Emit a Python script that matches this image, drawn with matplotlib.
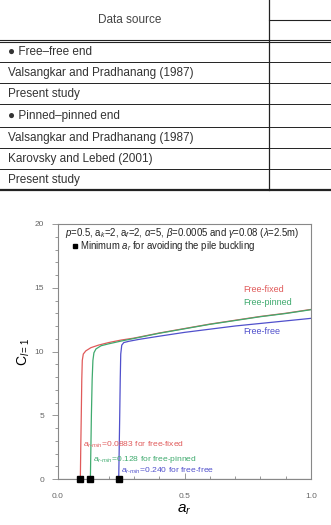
import numpy as np
import matplotlib.pyplot as plt
from matplotlib.ticker import MultipleLocator

# table rows
header = 'Data source'
rows = ['\u25cf Free\u2013free end', 'Valsangkar and Pradhanang (1987)', 'Present study',
        '\u25cf Pinned\u2013pinned end', 'Valsangkar and Pradhanang (1987)',
        'Karovsky and Lebed (2001)', 'Present study']

# curves
ar_fixed = [0.0883, 0.090, 0.092, 0.094, 0.096, 0.100, 0.11, 0.13, 0.16, 0.20, 0.25, 0.30,
            0.40, 0.50, 0.60, 0.70, 0.80, 0.90, 1.00]
c_fixed = [0, 2.5, 5.0, 7.8, 9.3, 9.8, 10.05, 10.3, 10.5, 10.7, 10.9, 11.05,
           11.45, 11.8, 12.15, 12.45, 12.75, 13.0, 13.3]
ar_pinned = [0.128, 0.130, 0.132, 0.135, 0.138, 0.142, 0.15, 0.17, 0.20, 0.25, 0.30,
             0.40, 0.50, 0.60, 0.70, 0.80, 0.90, 1.00]
c_pinned = [0, 2.5, 5.0, 7.8, 9.3, 9.9, 10.2, 10.45, 10.6, 10.82, 11.02,
            11.43, 11.78, 12.13, 12.43, 12.73, 12.98, 13.28]
ar_free = [0.240, 0.242, 0.244, 0.246, 0.248, 0.252, 0.26, 0.28, 0.32, 0.40, 0.50,
           0.60, 0.70, 0.80, 0.90, 1.00]
c_free = [0, 2.5, 5.0, 7.8, 9.8, 10.5, 10.7, 10.8, 10.95, 11.2, 11.5,
          11.75, 12.0, 12.2, 12.4, 12.6]
ar_min = [0.0883, 0.128, 0.240]

red, green, blue = '#e05a5a', '#3faa6e', '#5050cc'
gray = '#666666'

plt.rcParams['font.family'] = ['Liberation Sans', 'DejaVu Sans']
plt.rcParams['mathtext.fontset'] = 'custom'
plt.rcParams['mathtext.rm'] = 'Liberation Sans'
plt.rcParams['mathtext.it'] = 'Liberation Sans:italic'
fig = plt.figure(figsize=(3.31, 5.25), dpi=100)

# ---- table (figure pixel coords, y from top)
W, H = 331.0, 525.0
def fx(x): return x / W
def fy(y): return 1 - y / H

tc = '#222222'
fig.add_artist(plt.Line2D([fx(269), fx(269)], [fy(0), fy(190)], color=tc, lw=0.9))
fig.add_artist(plt.Line2D([fx(269), 1], [fy(20), fy(20)], color=tc, lw=0.8))
fig.add_artist(plt.Line2D([0, 1], [fy(40), fy(40)], color=tc, lw=0.8))
fig.add_artist(plt.Line2D([0, 1], [fy(42), fy(42)], color=tc, lw=0.8))
line_y = [62, 83, 104, 127, 148, 169]
for ly in line_y:
    fig.add_artist(plt.Line2D([0, 1], [fy(ly), fy(ly)], color=tc, lw=0.7))
fig.add_artist(plt.Line2D([0, 1], [fy(190), fy(190)], color=tc, lw=1.6))
fig.text(fx(130), fy(20), header, ha='center', va='center', fontsize=8.5, color='#444444')
row_mid = [52, 73, 94, 116, 138, 159, 180]
for t, ym in zip(rows, row_mid):
    fig.text(fx(8), fy(ym), t, ha='left', va='center', fontsize=8.5, color='#333333')

# ---- chart
ax = fig.add_axes([58 / W, 46 / H, 253 / W, 255 / H])
ax.plot(ar_fixed, c_fixed, color=red, lw=0.9)
ax.plot(ar_pinned, c_pinned, color=green, lw=0.9)
ax.plot(ar_free, c_free, color=blue, lw=0.9)
ax.plot(ar_min, [0] * len(ar_min), 's', color='black', ms=4.5, clip_on=False, zorder=5)

ax.set_xlim(0, 1)
ax.set_ylim(0, 20)
ax.xaxis.set_major_locator(MultipleLocator(0.5))
ax.xaxis.set_minor_locator(MultipleLocator(0.1))
ax.yaxis.set_major_locator(MultipleLocator(5))
ax.yaxis.set_minor_locator(MultipleLocator(1))
ax.xaxis.set_major_formatter(plt.FormatStrFormatter('%.1f'))
ax.tick_params(which='major', direction='out', length=4, width=0.6, colors='#888888',
               labelsize=6, labelcolor=gray, pad=6)
ax.tick_params(which='minor', direction='out', length=2.5, width=0.6, colors='#888888')
ax.tick_params(axis='x', which='both', direction='in')
ax.tick_params(axis='x', which='major', length=4, pad=10)
for s in ax.spines.values():
    s.set_color('#888888')
    s.set_linewidth(0.8)
ax.axhline(0, color='#333333', lw=0.8, zorder=1)

ax.set_xlabel('$a_r$', fontsize=11, labelpad=2)
ax.set_ylabel('C$_{l=1}$', fontsize=10, labelpad=2)

ax.text(0.028, 19.3, r'$p$=0.5, a$_k$=2, a$_f$=2, $\alpha$=5, $\beta$=0.0005 and $\gamma$=0.08 ($\lambda$=2.5m)',
        fontsize=6.9, va='center', color='#222222')
ax.plot([0.067], [18.25], 's', color='black', ms=3.5)
ax.text(0.085, 18.25, 'Minimum $a_r$ for avoiding the pile buckling', fontsize=6.9,
        va='center', color='#222222')

ax.text(0.731, 14.85, 'Free-fixed', color=red, fontsize=6.5, va='center')
ax.text(0.731, 13.85, 'Free-pinned', color=green, fontsize=6.5, va='center')
ax.text(0.731, 11.55, 'Free-free', color=blue, fontsize=6.5, va='center')

ax.text(0.098, 2.7, '$a_{r\\text{-}min}$=0.0883 for free-fixed', color=red, fontsize=6.1, va='center')
ax.text(0.137, 1.5, '$a_{r\\text{-}min}$=0.128 for free-pinned', color=green, fontsize=6.1, va='center')
ax.text(0.248, 0.6, '$a_{r\\text{-}min}$=0.240 for free-free', color=blue, fontsize=6.1, va='center')

fig.savefig('out.png', dpi=100)
